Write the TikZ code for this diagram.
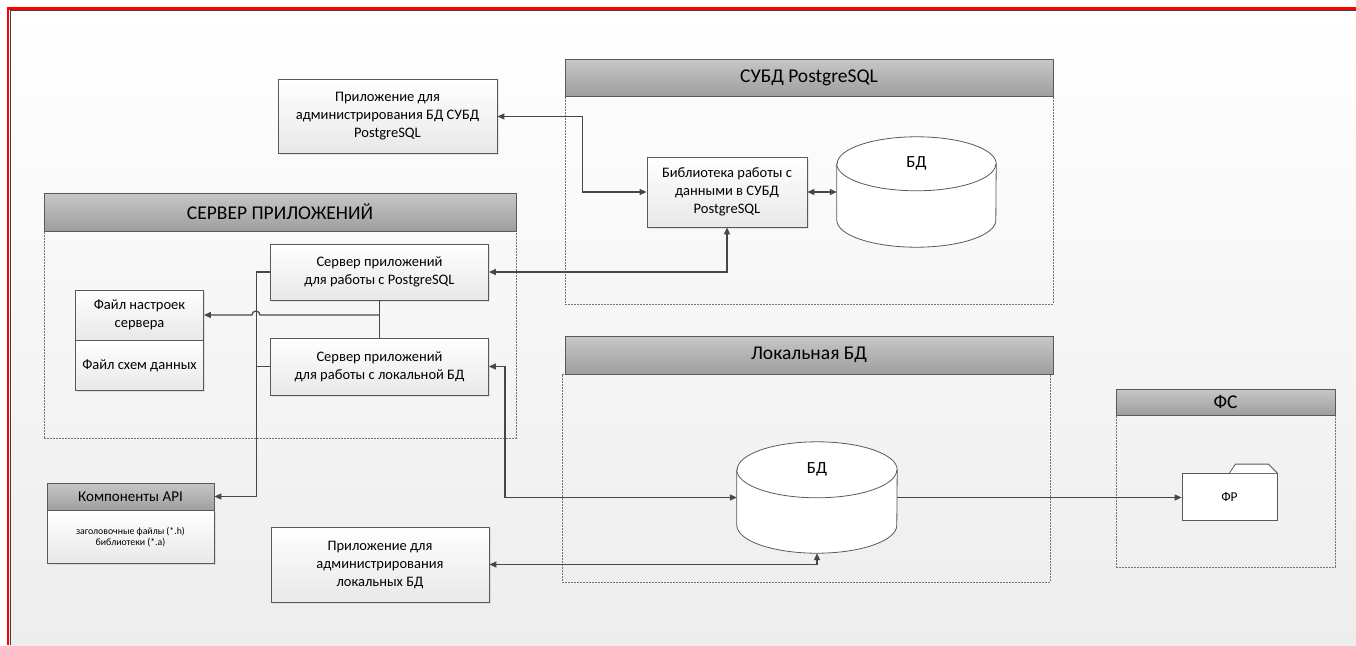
\documentclass[tikz,border=0pt]{standalone}
\usepackage{fontspec}
\setmainfont{Carlito}
\usetikzlibrary{arrows.meta,shadows}

\begin{document}
\begin{tikzpicture}[x=1pt, y=-1pt,
    unit/.style={rectangle, draw=black!65, line width=0.8pt, top color=white, bottom color=black!9,
        drop shadow={opacity=0.18, shadow xshift=1.5pt, shadow yshift=-1.5pt},
        align=center, inner sep=0pt, font=\fontsize{14.5}{18}\selectfont},
    hdr/.style={rectangle, draw=black!65, line width=0.8pt, top color=black!22, bottom color=black!38,
        inner sep=0pt, font=\fontsize{19.5}{22}\selectfont},
    zone/.style={rectangle, draw=black!55, dash pattern=on 2pt off 1pt, line width=0.6pt, inner sep=0pt},
    store/.style={rectangle, inner sep=0pt},
    dbline/.style={draw=black!65, fill=white, line width=0.8pt},
    dblabel/.style={inner sep=0pt, font=\fontsize{17}{19}\selectfont},
    link/.style={draw=black!72, line width=1.2pt},
    onearrow/.style={-{Triangle[length=7pt, width=6pt]}},
    twoarrows/.style={{Triangle[length=7pt, width=6pt]}-{Triangle[length=7pt, width=6pt]}}
]

            %background and frame
            \useasboundingbox (0,0) rectangle (1356,645);
            \fill[top color=white, bottom color=black!7] (8,8) rectangle (1356,645);
            \draw[red, line width=2.5pt] (8,645) |- (1356,8.5);
            \draw[black!75, line width=1pt] (10,645) |- (1356,10.5);

            %СУБД PostgreSQL
            \node[zone, minimum width=488, minimum height=208] (pgzone) at (809, 200) {};
            \node[hdr, minimum width=488, minimum height=37] (pghdr) at (809, 77.5) {СУБД PostgreSQL};
            \node[unit, minimum width=160, minimum height=70] (lib) at (727, 192) {Библиотека работы с\\данными в СУБД\\PostgreSQL};
            \node[store, minimum width=159, minimum height=110] (dbpg) at (916.5, 192) {};
            \filldraw[dbline] ([yshift=-27pt]dbpg.north west) -- ([yshift=27pt]dbpg.south west)
                arc (180:0:79.5 and 27) -- ([yshift=-27pt]dbpg.north east) arc (0:-180:79.5 and 27) -- cycle;
            \draw[dbline] ([yshift=-27pt]dbpg.north west) arc (180:0:79.5 and 27);
            \node[dblabel] (dbpgtext) at ([yshift=-27pt]dbpg.north) {БД};

            %admin PostgreSQL
            \node[unit, minimum width=219, minimum height=74] (admpg) at (387.5, 116.5) {Приложение для\\администрирования БД СУБД\\PostgreSQL};

            %application server
            \node[zone, minimum width=472, minimum height=207] (srvzone) at (280, 334.5) {};
            \node[hdr, minimum width=472, minimum height=38] (srvhdr) at (280, 212) {СЕРВЕР ПРИЛОЖЕНИЙ};
            \node[unit, minimum width=218, minimum height=56] (srvpg) at (379.5, 272) {Сервер приложений\\для работы с PostgreSQL};
            \node[unit, minimum width=218, minimum height=57] (srvloc) at (379.5, 366.5) {Сервер приложений\\для работы с локальной БД};
            \node[unit, minimum width=128, minimum height=50] (cfg) at (139.5, 315) {Файл настроек\\сервера};
            \node[unit, minimum width=128, minimum height=50] (scheme) at (139.5, 365.5) {Файл схем данных};

            %API
            \node[hdr, minimum width=167, minimum height=27, font=\fontsize{15}{17}\selectfont] (apihdr) at (130.5, 496.5) {Компоненты API};
            \node[unit, minimum width=167, minimum height=53, anchor=north, font=\fontsize{9.8}{11}\selectfont] (apibody) at (apihdr.south) {заголовочные файлы (*.h)\\библиотеки (*.a)};

            %admin local
            \node[unit, minimum width=218, minimum height=75] (admloc) at (380, 564.5) {Приложение для\\администрирования\\локальных БД};

            %local database
            \node[zone, minimum width=488, minimum height=208] (loczone) at (806, 478) {};
            \node[hdr, minimum width=488, minimum height=38] (lochdr) at (809, 355) {Локальная БД};
            \node[store, minimum width=160, minimum height=111] (dbloc) at (817, 497.5) {};
            \filldraw[dbline] ([yshift=-28pt]dbloc.north west) -- ([yshift=28pt]dbloc.south west)
                arc (180:0:80 and 28) -- ([yshift=-28pt]dbloc.north east) arc (0:-180:80 and 28) -- cycle;
            \draw[dbline] ([yshift=-28pt]dbloc.north west) arc (180:0:80 and 28);
            \node[dblabel] (dbloctext) at ([yshift=-28pt]dbloc.north) {БД};

            %file system
            \node[zone, minimum width=219, minimum height=152] (fszone) at (1225.5, 491) {};
            \node[hdr, minimum width=219, minimum height=26] (fshdr) at (1225.5, 402) {ФС};
            \node[rectangle, draw=black!65, line width=0.8pt, fill=white, minimum width=95, minimum height=47,
                font=\fontsize{13.5}{15}\selectfont] (fr) at (1229.5, 497) {ФР};
            \draw[draw=black!65, fill=white, line width=0.8pt] (fr.north east) -- ++(-9,-9) -- ++(-33,0) -- ++(-6,9);

            %connections PostgreSQL
            \draw[link, twoarrows] (admpg.east) -- ++(85,0) |- (lib.west);
            \draw[link, twoarrows] (lib.east) -- (dbpg.west);
            \draw[link, twoarrows] (srvpg.east) -| (lib.south);

            %connections server
            \draw[link] (srvpg.south) -- (srvloc.north);
            \draw[link, onearrow] (srvpg.south |- cfg.east) -- (260, 315) arc (0:-180:4) -- (cfg.east);
            \draw[link, onearrow] (srvpg.west) -- ++(-14,0) |- (apihdr.east);
            \draw[link] (srvloc.west) -- ++(-14,0);

            %connections local database
            \draw[link, twoarrows] (srvloc.east) -- ++(16,0) |- (dbloc.west);
            \draw[link, twoarrows] (admloc.east) -| (dbloc.south);
            \draw[link, onearrow] (dbloc.east) -- (dbloc.east -| fr.west);
\end{tikzpicture}
\end{document}
